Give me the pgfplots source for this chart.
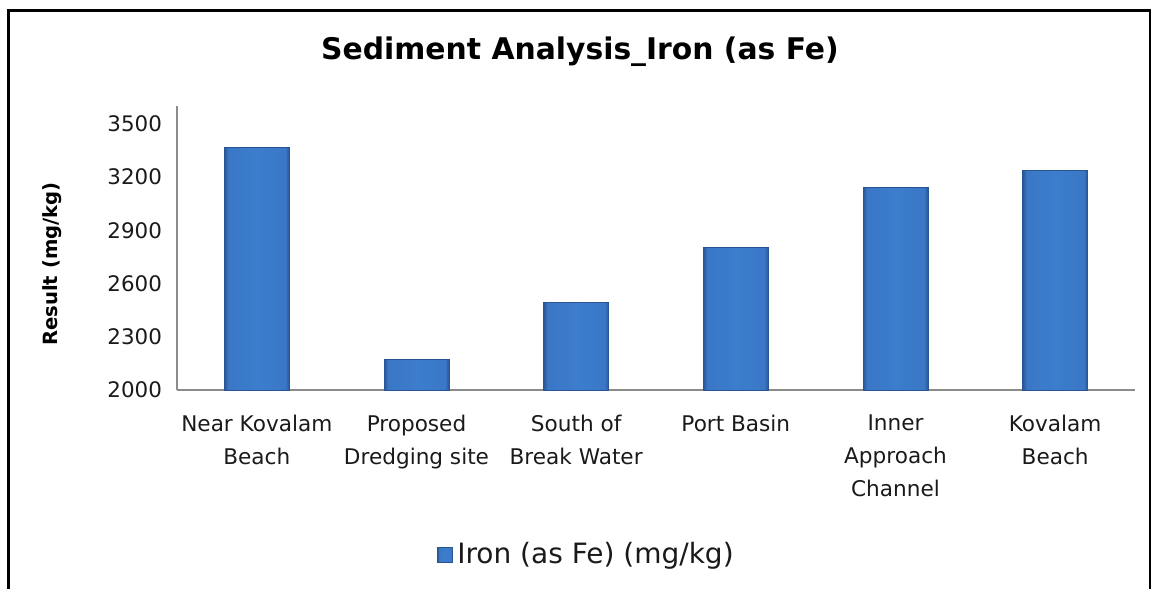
\documentclass[border=0pt]{standalone}
\usepackage{pgfplots}
\pgfplotsset{compat=1.18}
\usepackage{fontspec}
\setmainfont{DejaVu Sans}
\definecolor{barlight}{HTML}{3D7DCD}
\definecolor{barmid}{HTML}{3A77C6}
\definecolor{bardark}{HTML}{2A5592}
\definecolor{axgray}{HTML}{8C8C8C}
\definecolor{txt}{HTML}{1A1A1A}
\pgfdeclarehorizontalshading{barshade}{100bp}{color(0bp)=(bardark); color(25bp)=(bardark); color(28bp)=(barmid); color(50bp)=(barlight); color(72bp)=(barmid); color(75bp)=(bardark); color(100bp)=(bardark)}
\pgfplotsset{mybar/.style={ybar, bar width=32.5pt, bar shift=0pt, draw=bardark, line width=0.5pt, shade, shading=barshade}}
\begin{document}
\begin{tikzpicture}[x=1pt,y=1pt]
\useasboundingbox (0,0) rectangle (581,294.5);
\draw[line width=1.2pt] (4.2,-2) -- (4.2,289.2) -- (575,289.2) -- (575,-2);
\node[font=\fontsize{14.9}{17}\selectfont\bfseries, text=black] at (290,268.5) {Sediment Analysis\_Iron (as Fe)};
\node[font=\fontsize{9.8}{11}\selectfont\bfseries, text=black, rotate=90] at (26,162.5) {Result (mg/kg)};
\begin{axis}[
  at={(88.5pt,99.5pt)}, anchor=south west,
  width=479pt, height=142pt, scale only axis,
  xmin=-0.5, xmax=5.5, ymin=2000, ymax=3600,
  ytick={2000,2300,...,3500},
  xtick={0,1,2,3,4,5},
  xticklabels={Near Kovalam\\Beach, Proposed\\Dredging site, South of\\Break Water, Port Basin, Inner\\Approach\\Channel, Kovalam\\Beach},
  axis x line*=bottom, axis y line*=left,
  axis line style={draw=axgray, line width=0.9pt},
  major tick length=0pt,
  tick style={draw=none},
  /pgf/number format/assume math mode=true,
  /pgf/number format/1000 sep={},
  yticklabel style={font=\fontsize{10.7}{12}\selectfont, text=txt, xshift=-4pt},
  xticklabel style={font=\fontsize{10.8}{16.5}\selectfont, text=txt, align=center, yshift=-9pt},
  legend style={at={(0.4285,-0.58)}, anchor=center, draw=none, fill=none, font=\fontsize{14}{16}\selectfont, text=txt},
  legend image code/.code={\draw[draw=bardark, shade, shading=barshade] (0pt,-3.8pt) rectangle (7.5pt,3.8pt);},
  clip=true,
]
\addplot[mybar] coordinates {(0,3365)};
\addlegendentry{Iron (as Fe) (mg/kg)}
\addplot[mybar, forget plot] coordinates {(1,2170)};
\addplot[mybar, forget plot] coordinates {(2,2495)};
\addplot[mybar, forget plot] coordinates {(3,2805)};
\addplot[mybar, forget plot] coordinates {(4,3140)};
\addplot[mybar, forget plot] coordinates {(5,3235)};
\end{axis}
\end{tikzpicture}
\end{document}
